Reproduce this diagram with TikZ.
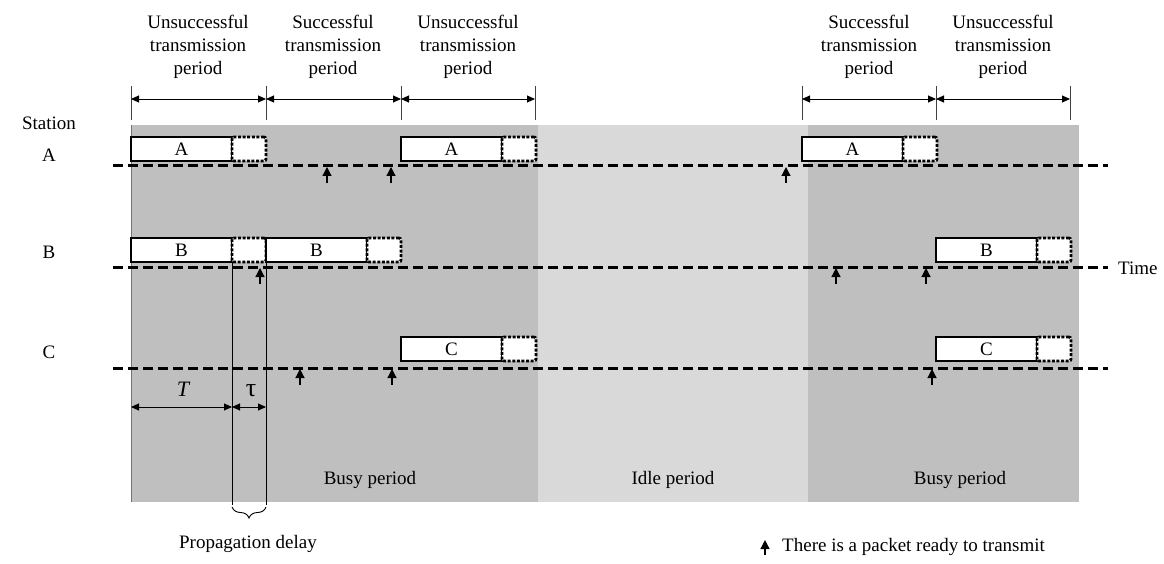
\documentclass[tikz,border=0pt]{standalone}
\usepackage{fontspec}
\setmainfont{Liberation Serif}
\usetikzlibrary{arrows.meta,decorations.pathreplacing}
\definecolor{busygray}{HTML}{BFBFBF}
\definecolor{idlegray}{HTML}{D9D9D9}
\begin{document}
\begin{tikzpicture}[x=1pt,y=-1pt,font=\fontsize{19}{23}\selectfont]
\tikzset{
 pkt/.style={draw, fill=white, line width=1.2pt, minimum width=101pt, minimum height=24pt, inner sep=0pt, outer sep=0pt, anchor=north west},
 tailbox/.style={draw, fill=white, line width=2.8pt, dash pattern=on 3pt off 1.6pt, rounded corners=2pt, minimum width=34pt, minimum height=24pt, inner sep=0pt, outer sep=0pt, anchor=west},
 timeline/.style={line width=3pt, dash pattern=on 10pt off 5pt},
 ready/.style={line width=1.2pt, -{Triangle[length=9pt,width=9pt]}},
 dim/.style={line width=0.9pt, {Triangle[length=8pt,width=7pt]}-{Triangle[length=8pt,width=7pt]}},
 tickline/.style={line width=0.9pt, draw=black!75},
 lbl/.style={align=center, inner sep=0pt}
}
\useasboundingbox (0,0) rectangle (1164,564);
% background regions
\fill[busygray] (131,125) rectangle (538,502);
\fill[idlegray] (538,125) rectangle (808,502);
\fill[busygray] (808,125) rectangle (1079,502);
\draw[line width=1pt, draw=black!55] (131,125) -- (131,502);

% period ticks
\foreach \x/\n in {131/t0,266/t1,401/t2,535/t3,802/t4,936/t5,1070/t6}{
  \coordinate (\n top) at (\x,86);
  \coordinate (\n bot) at (\x,120);
  \coordinate (\n) at (\x,99);
  \draw[tickline] (\n top) -- (\n bot);
}
\draw[dim] (t0) -- (t1);
\draw[dim] (t1) -- (t2);
\draw[dim] (t2) -- (t3);
\draw[dim] (t4) -- (t5);
\draw[dim] (t5) -- (t6);

% period labels
\node[lbl] (p1) at (198,47) {Unsuccessful\\transmission\\period};
\node[lbl] (p2) at (333,47) {Successful\\transmission\\period};
\node[lbl] (p3) at (468,47) {Unsuccessful\\transmission\\period};
\node[lbl] (p4) at (869,47) {Successful\\transmission\\period};
\node[lbl] (p5) at (1003,47) {Unsuccessful\\transmission\\period};

% station labels
\node[lbl] (st) at (49,123) {Station};
\node[lbl] (sA) at (49,155) {A};
\node[lbl] (sB) at (49,252) {B};
\node[lbl] (sC) at (49,352) {C};

% time lines
\coordinate (Aleft) at (113,166); \coordinate (Aright) at (1108,166);
\coordinate (Bleft) at (113,267); \coordinate (Bright) at (1108,267);
\coordinate (Cleft) at (113,368); \coordinate (Cright) at (1108,368);
\draw[timeline] (Aleft) -- (Aright);
\draw[timeline] (Bleft) -- (Bright);
\draw[timeline] (Cleft) -- (Cright);
\node[anchor=west, inner sep=0pt] (time) at (1118,268) {Time};

% packets
\node[pkt] (A1) at (131,137) {A}; \node[tailbox] (A1t) at (A1.east) {};
\node[pkt] (A2) at (401,137) {A}; \node[tailbox] (A2t) at (A2.east) {};
\node[pkt] (A3) at (802,137) {A}; \node[tailbox] (A3t) at (A3.east) {};
\node[pkt] (B1) at (131,238) {B}; \node[tailbox] (B1t) at (B1.east) {};
\node[pkt] (B2) at (266,238) {B}; \node[tailbox] (B2t) at (B2.east) {};
\node[pkt] (B3) at (936,238) {B}; \node[tailbox] (B3t) at (B3.east) {};
\node[pkt] (C1) at (401,337) {C}; \node[tailbox] (C1t) at (C1.east) {};
\node[pkt] (C2) at (936,337) {C}; \node[tailbox] (C2t) at (C2.east) {};

% ready arrows
\foreach \x/\y [count=\i] in {327/166,391/166,786/166,260/267,836/267,926/267,300/368,392/368,932/368}{
  \coordinate (r\i tail) at (\x,\y+17);
  \coordinate (r\i tip) at (\x,\y+1);
  \draw[ready] (r\i tail) -- (r\i tip);
}

% propagation delay lines
\coordinate (v1top) at (232,262); \coordinate (v1bot) at (232,505);
\coordinate (v2top) at (266,262); \coordinate (v2bot) at (266,505);
\draw[line width=1pt] (v1top) -- (v1bot);
\draw[line width=1pt] (v2top) -- (v2bot);
\coordinate (Tl) at (131,407); \coordinate (Tm) at (232,407); \coordinate (Tr) at (266,407);
\draw[dim] (Tl) -- (Tm);
\draw[dim] (Tm) -- (Tr);
\node[lbl] (Tlbl) at (183,389) {\fontsize{22}{23}\selectfont\itshape T};
\node[lbl] (taulbl) at (251,391) {\fontsize{26}{26}\selectfont τ};
\coordinate (br1) at (266,507); \coordinate (br2) at (232,507);
\draw[line width=0.9pt, decorate, decoration={brace, amplitude=11pt}] (br1) -- (br2);
\node[lbl] (prop) at (248,544) {Propagation delay};

% region labels
\node[lbl] (busy1) at (370,480) {Busy period};
\node[lbl] (idle) at (673,480) {Idle period};
\node[lbl] (busy2) at (960,480) {Busy period};

% legend
\coordinate (legtail) at (765,555); \coordinate (legtip) at (765,540);
\draw[ready] (legtail) -- (legtip);
\node[anchor=west, inner sep=0pt] (legend) at (782,547) {There is a packet ready to transmit};
\end{tikzpicture}
\end{document}
